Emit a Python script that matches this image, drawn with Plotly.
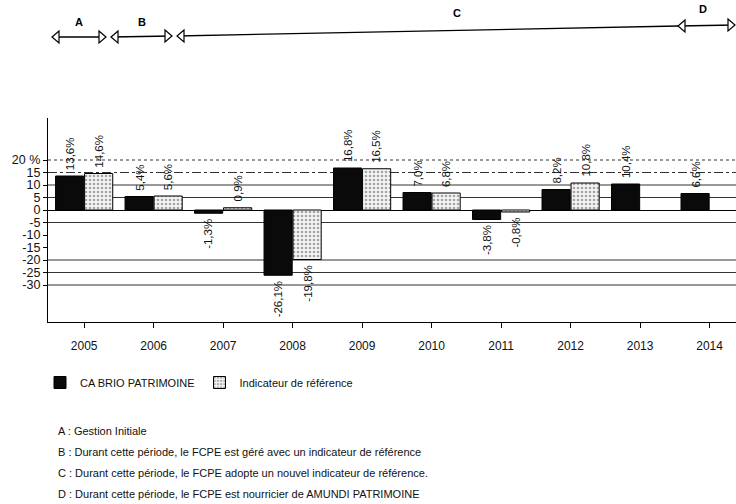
import plotly.graph_objects as go

# ---- data ----
years = ["2005", "2006", "2007", "2008", "2009", "2010", "2011", "2012", "2013", "2014"]
fund_values = [13.6, 5.4, -1.3, -26.1, 16.8, 7.0, -3.8, 8.2, 10.4, 6.6]
ref_values = [14.6, 5.6, 0.9, -19.8, 16.5, 6.8, -0.8, 10.8, None, None]
fund_name = "CA BRIO PATRIMOINE"
ref_name = "Indicateur de référence"
y_tickvals = [20, 15, 10, 5, 0, -5, -10, -15, -20, -25, -30]
y_ticktext = ["20 %", "15", "10", "5", "0", "-5", "-10", "-15", "-20", "-25", "-30"]
grid_solid = [10, 5, -5, -20, -25, -30]
grid_dot = [20]
grid_dashdot = [15]
periods = ["A", "B", "C", "D"]
notes = [
    "A : Gestion Initiale",
    "B : Durant cette période, le FCPE est géré avec un indicateur de référence",
    "C : Durant cette période, le FCPE adopte un nouvel indicateur de référence.",
    "D : Durant cette période, le FCPE est nourricier de AMUNDI PATRIMOINE",
]

W, H = 736, 504
L, R, T, B = 48, 0, 118, 182
X_RANGE = [-0.52, 9.38]
BARGAP, GROUPGAP = 0.165, 0.03


def px(x):
    return (x - L) / (W - L - R)


def py(y):
    return (H - B - y) / (H - T - B)


def fmt(v):
    return f"{v:.1f}".replace(".", ",") + "%"


FONT = "Arial, Liberation Sans, sans-serif"

fig = go.Figure()
fig.add_trace(go.Bar(
    x=years, y=fund_values, name=fund_name,
    marker=dict(color="#0a0a0a", line=dict(color="#000", width=1)),
))
fig.add_trace(go.Bar(
    x=years, y=ref_values, name=ref_name,
    marker=dict(color="#ffffff", line=dict(color="#000", width=1),
                pattern=dict(shape=".", fgcolor="#555", bgcolor="#f4f4f4", size=4, solidity=0.35)),
))

shapes = []
for g in grid_solid:
    shapes.append(dict(type="line", xref="paper", yref="y", x0=0, x1=1, y0=g, y1=g,
                       line=dict(color="#333", width=1), layer="below"))
for g in grid_dot:
    shapes.append(dict(type="line", xref="paper", yref="y", x0=0, x1=1, y0=g, y1=g,
                       line=dict(color="#333", width=1, dash="dot"), layer="below"))
for g in grid_dashdot:
    shapes.append(dict(type="line", xref="paper", yref="y", x0=0, x1=1, y0=g, y1=g,
                       line=dict(color="#333", width=1, dash="dashdot"), layer="below"))


# period arrows (pixel geometry -> paper coords)
def head(x, y, direction):
    d = 7 if direction == "left" else -7
    return dict(type="path", xref="paper", yref="paper",
                path=f"M {px(x + d)},{py(y - 6)} L {px(x)},{py(y)} L {px(x + d)},{py(y + 6)} Z",
                line=dict(color="#000", width=1.2), fillcolor="white")


segs = [(52, 37, 106, 37, True), (111, 37, 172, 36, True), (177, 36, 678, 26, False), (678, 26, 735, 25, True)]
for x0, y0, x1, y1, right_head in segs:
    shapes.append(dict(type="line", xref="paper", yref="paper", x0=px(x0), x1=px(x1), y0=py(y0), y1=py(y1),
                       line=dict(color="#000", width=1.3)))
    shapes.append(head(x0, y0, "left"))
    if right_head:
        shapes.append(head(x1, y1, "right"))

annotations = []
label_pos = [(79, 22), (142, 22), (457, 13), (703, 9)]
for lab, (x, y) in zip(periods, label_pos):
    annotations.append(dict(text=f"<b>{lab}</b>", xref="paper", yref="paper", x=px(x), y=py(y),
                            xanchor="center", yanchor="middle",
                            showarrow=False, font=dict(family=FONT, size=11, color="#000")))
for i, n in enumerate(notes):
    annotations.append(dict(text=n, xref="paper", yref="paper", x=px(56), y=py(431 + 21 * i),
                            xanchor="left", yanchor="middle", showarrow=False,
                            font=dict(family=FONT, size=11, color="#111")))

# value labels above / below each bar (grouped-bar offset in category units)
half_group = (1 - BARGAP) / 2
for k, series in enumerate([fund_values, ref_values]):
    off = (-half_group / 2) if k == 0 else (half_group / 2)
    for idx, v in enumerate(series):
        if v is None:
            continue
        annotations.append(dict(
            text=fmt(v), x=idx + off, y=v, xref="x", yref="y", textangle=-90,
            xanchor="center", yanchor="bottom" if v >= 0 else "top",
            yshift=4 if v >= 0 else -4, showarrow=False,
            font=dict(family=FONT, size=11.5, color="#111"),
        ))

fig.update_layout(
    width=W, height=H,
    margin=dict(l=L, r=R, t=T, b=B, pad=0, autoexpand=False),
    paper_bgcolor="white", plot_bgcolor="white",
    barmode="group", bargap=BARGAP, bargroupgap=GROUPGAP,
    shapes=shapes, annotations=annotations,
    showlegend=True,
    legend=dict(orientation="h", x=px(40), y=py(368), xanchor="left", yanchor="top",
                font=dict(family=FONT, size=11, color="#111"), itemwidth=30,
                bgcolor="rgba(0,0,0,0)", traceorder="normal"),
    font=dict(family=FONT),
)
fig.update_xaxes(type="category", range=X_RANGE, showline=True, linecolor="#000", linewidth=1.3,
                 ticks="outside", ticklen=5, tickcolor="#000", showgrid=False,
                 ticklabelstandoff=7,
                 tickfont=dict(family=FONT, size=12, color="#111"))
fig.update_yaxes(range=[-44.8, 36.8], tickvals=y_tickvals, ticktext=y_ticktext,
                 showline=True, linecolor="#000", linewidth=1.3, ticks="outside", ticklen=4,
                 tickcolor="#000", showgrid=False, zeroline=True, zerolinecolor="#000", zerolinewidth=1.2,
                 tickfont=dict(family=FONT, size=12.5, color="#111"))

fig.write_html("out.html", config={"displayModeBar": False},
               post_script="document.body.style.margin='0';")
